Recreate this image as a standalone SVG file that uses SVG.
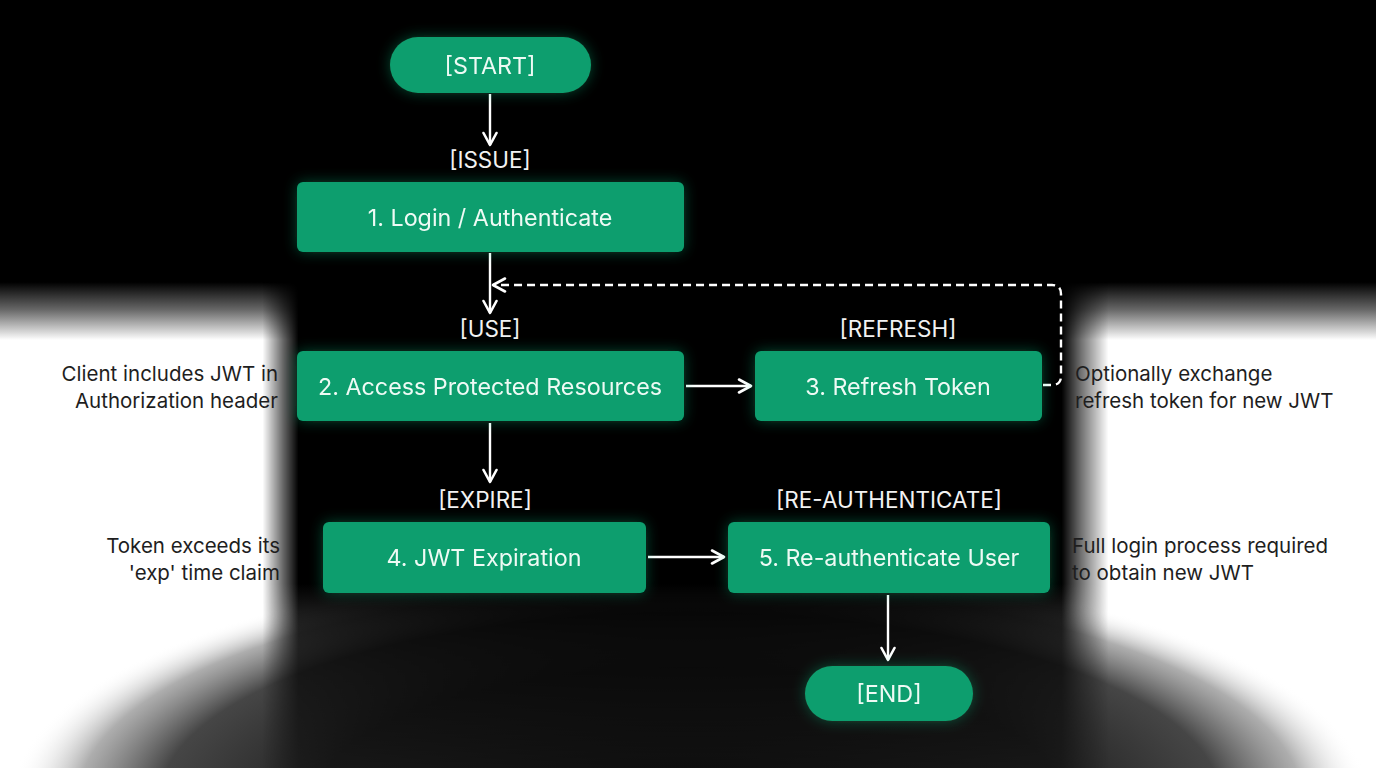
<svg xmlns="http://www.w3.org/2000/svg" width="1376" height="768" viewBox="0 0 1376 768">
<defs>
<filter id="glow" x="-20%" y="-40%" width="140%" height="180%">
<feGaussianBlur in="SourceAlpha" stdDeviation="7" result="b"/>
<feFlood flood-color="#1fd08a" flood-opacity="0.35"/>
<feComposite in2="b" operator="in" result="g"/>
<feMerge><feMergeNode in="g"/><feMergeNode in="SourceGraphic"/></feMerge>
</filter>
<linearGradient id="topg" gradientUnits="userSpaceOnUse" x1="0" y1="0" x2="0" y2="340">
<stop offset="0" stop-color="#000" stop-opacity="1"/>
<stop offset="0.83" stop-color="#000" stop-opacity="1"/>
<stop offset="0.91" stop-color="#000" stop-opacity="0.6"/>
<stop offset="1" stop-color="#000" stop-opacity="0"/>
</linearGradient>
<linearGradient id="colg" gradientUnits="userSpaceOnUse" x1="240" y1="0" x2="1140" y2="0">
<stop offset="0.025" stop-color="#000" stop-opacity="0"/>
<stop offset="0.048" stop-color="#000" stop-opacity="0.6"/>
<stop offset="0.065" stop-color="#000" stop-opacity="1"/>
<stop offset="0.913" stop-color="#000" stop-opacity="1"/>
<stop offset="0.935" stop-color="#000" stop-opacity="0.55"/>
<stop offset="0.965" stop-color="#000" stop-opacity="0"/>
</linearGradient>
<linearGradient id="colmaskg" gradientUnits="userSpaceOnUse" x1="0" y1="0" x2="0" y2="768">
<stop offset="0.76" stop-color="#fff"/>
<stop offset="1" stop-color="#555"/>
</linearGradient>
<mask id="colmask" maskUnits="userSpaceOnUse" x="0" y="0" width="1376" height="768">
<rect x="0" y="0" width="1376" height="768" fill="url(#colmaskg)"/>
</mask>
<radialGradient id="blobg">
<stop offset="0" stop-color="#141414"/>
<stop offset="0.55" stop-color="#242424"/>
<stop offset="0.78" stop-color="#3c3c3c" stop-opacity="0.95"/>
<stop offset="0.9" stop-color="#777" stop-opacity="0.6"/>
<stop offset="1" stop-color="#fff" stop-opacity="0"/>
</radialGradient>
<marker id="arrL" viewBox="0 0 16 16" refX="14" refY="8" markerWidth="16" markerHeight="16" markerUnits="userSpaceOnUse" orient="auto">
<path d="M2,1.5 L14,8 L2,14.5" fill="none" stroke="#ffffff" stroke-width="2.6" stroke-linecap="round" stroke-linejoin="round"/>
</marker>
<style>
.node{fill:#0a9e6e}
.nt{font-family:Inter,"Liberation Sans",sans-serif;font-size:23.3px;fill:#eefaf4;text-anchor:middle;dominant-baseline:central}
.lbl{font-family:Inter,"Liberation Sans",sans-serif;font-size:22.5px;fill:#f2f2f2;text-anchor:middle}
.ann{font-family:Inter,"Liberation Sans",sans-serif;font-size:20.5px;fill:#1e1e1e}
.c{fill:none;stroke:#ffffff;stroke-width:2.4}
.d{fill:none;stroke:#ffffff;stroke-width:2.4;stroke-dasharray:8 5}
</style>
</defs>

<g id="background">
<rect x="0" y="0" width="1376" height="768" fill="#ffffff"/>
<ellipse cx="690" cy="800" rx="680" ry="240" fill="url(#blobg)"/>
<rect x="0" y="0" width="1376" height="340" fill="url(#topg)"/>
<rect x="240" y="240" width="900" height="528" fill="url(#colg)" mask="url(#colmask)"/>
</g>

<g id="connectors">
<line class="c" x1="490" y1="94" x2="490" y2="145" marker-end="url(#arrL)"/>
<line class="c" x1="490" y1="253" x2="490" y2="313" marker-end="url(#arrL)"/>
<path class="d" d="M1043,385 L1052,385 Q1061,385 1061,376 L1061,294 Q1061,285 1052,285 L493,285" marker-end="url(#arrL)"/>
<line class="c" x1="686" y1="386" x2="751" y2="386" marker-end="url(#arrL)"/>
<line class="c" x1="490" y1="423" x2="490" y2="482" marker-end="url(#arrL)"/>
<line class="c" x1="648" y1="557" x2="724" y2="557" marker-end="url(#arrL)"/>
<line class="c" x1="888" y1="595" x2="888" y2="660" marker-end="url(#arrL)"/>
</g>

<g id="labels">
<text class="lbl" x="490" y="168">[ISSUE]</text>
<text class="lbl" x="490" y="337">[USE]</text>
<text class="lbl" x="898" y="337">[REFRESH]</text>
<text class="lbl" x="485" y="508">[EXPIRE]</text>
<text class="lbl" x="889" y="508">[RE-AUTHENTICATE]</text>
</g>

<g id="start" filter="url(#glow)">
<rect class="node" x="390" y="37" width="201" height="56" rx="28"/>
<text class="nt" x="490" y="65">[START]</text>
</g>
<g id="n1" filter="url(#glow)">
<rect class="node" x="297" y="182" width="387" height="70" rx="6"/>
<text class="nt" x="490" y="217">1. Login / Authenticate</text>
</g>
<g id="n2" filter="url(#glow)">
<rect class="node" x="297" y="351" width="387" height="70" rx="6"/>
<text class="nt" x="490" y="386">2. Access Protected Resources</text>
</g>
<g id="n3" filter="url(#glow)">
<rect class="node" x="755" y="351" width="287" height="70" rx="6"/>
<text class="nt" x="898" y="386">3. Refresh Token</text>
</g>
<g id="n4" filter="url(#glow)">
<rect class="node" x="323" y="522" width="323" height="71" rx="6"/>
<text class="nt" x="484" y="557">4. JWT Expiration</text>
</g>
<g id="n5" filter="url(#glow)">
<rect class="node" x="728" y="522" width="322" height="71" rx="6"/>
<text class="nt" x="889" y="557">5. Re-authenticate User</text>
</g>
<g id="end" filter="url(#glow)">
<rect class="node" x="805" y="666" width="168" height="55" rx="27.5"/>
<text class="nt" x="889" y="693">[END]</text>
</g>

<g id="annotations">
<text class="ann" x="278" y="381" text-anchor="end">Client includes JWT in</text>
<text class="ann" x="278" y="408" text-anchor="end">Authorization header</text>
<text class="ann" x="280" y="553" text-anchor="end">Token exceeds its</text>
<text class="ann" x="280" y="580" text-anchor="end">'exp' time claim</text>
<text class="ann" x="1075" y="381">Optionally exchange</text>
<text class="ann" x="1075" y="408">refresh token for new JWT</text>
<text class="ann" x="1072" y="553">Full login process required</text>
<text class="ann" x="1072" y="580">to obtain new JWT</text>
</g>
</svg>
